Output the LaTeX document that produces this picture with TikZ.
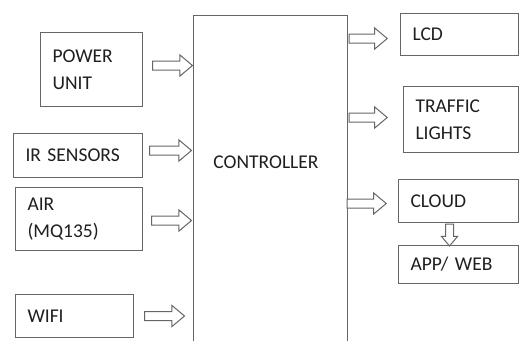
\documentclass[tikz,border=0pt]{standalone}
\usepackage{fontspec}
\setmainfont{Carlito}
\usetikzlibrary{positioning,shapes.arrows}
\definecolor{lincol}{gray}{0.4}
\definecolor{txtcol}{gray}{0.12}
\tikzset{
	blk/.style={draw=lincol,line width=1pt,anchor=north west,inner xsep=12pt,inner ysep=0pt,align=left,text=txtcol,font=\fontsize{19.5}{27}\selectfont},
	fatarrow/.style={single arrow,draw=lincol,line width=1pt,fill=white,inner xsep=0pt,inner ysep=4pt,minimum height=40pt,single arrow head extend=6pt,single arrow tip angle=80},
}
\begin{document}
\begin{tikzpicture}[x=1pt,y=-1pt]
	\clip (0,0) rectangle (519,340);
	\fill[white] (0,0) rectangle (519,340);
	% inputs
	\node[blk,text width=78pt,minimum height=74pt] (pwr) at (40,32) {POWER\\UNIT};
	\node[blk,text width=105pt,minimum height=44pt] (irs) at (13,133) {IR SENSORS};
	\node[blk,text width=103pt,minimum height=63pt] (air) at (15,187) {AIR\\(MQ135)};
	\node[blk,text width=94pt,minimum height=43pt] (wifi) at (15,294) {WIFI};
	% controller
	\node[blk,minimum width=154pt,minimum height=345pt] (ctrl) at (193,15) {};
	\node[text=txtcol,font=\fontsize{19.5}{27}\selectfont] (ctrllbl) at (266,162) {CONTROLLER};
	% outputs
	\node[blk,text width=94pt,minimum height=42pt] (lcd) at (400,13) {LCD};
	\node[blk,text width=91pt,minimum height=66pt] (tfl) at (403,86) {TRAFFIC\\LIGHTS};
	\node[blk,text width=96pt,minimum height=43pt] (cloud) at (398,179) {CLOUD};
	\node[blk,text width=96pt,minimum height=38pt] (app) at (398,245) {APP/ WEB};
	% arrows
	\node[fatarrow,right=9pt of pwr,yshift=4pt] (p2c) {};
	\node[fatarrow,right=6pt of irs,yshift=5pt,minimum height=42pt] (i2c) {};
	\node[fatarrow,right=8pt of air,yshift=-1.5pt] (a2c) {};
	\node[fatarrow,right=10pt of wifi] (w2c) {};
	\node[fatarrow,left=12pt of lcd,yshift=-4pt,minimum height=38pt] (c2l) {};
	\node[fatarrow,left=15pt of tfl,yshift=2pt,minimum height=38pt] (c2t) {};
	\node[fatarrow,left=11pt of cloud,yshift=-2.5pt,minimum height=39pt] (c2c) {};
	\node[fatarrow,shape border rotate=270,below=0.5pt of cloud,xshift=-9pt,minimum height=22pt,inner xsep=3.5pt,inner ysep=3.5pt,single arrow head extend=4pt] (c2a) {};
\end{tikzpicture}
\end{document}
